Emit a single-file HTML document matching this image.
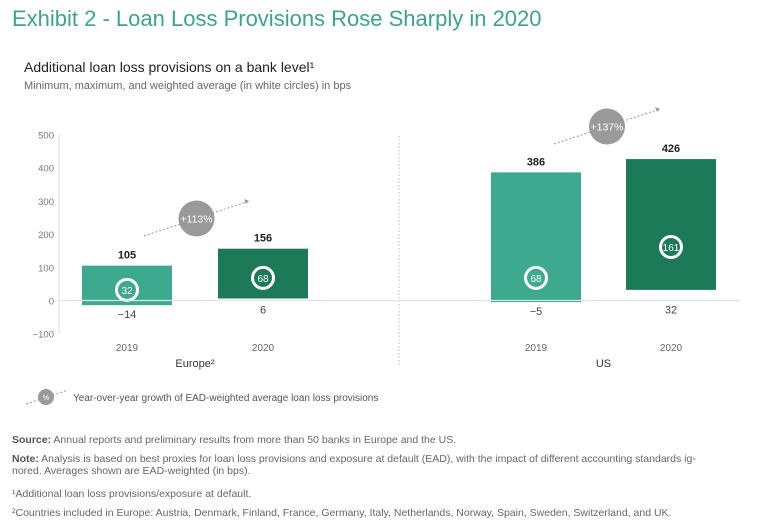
<!DOCTYPE html>
<html><head><meta charset="utf-8"><style>
body{margin:0;width:768px;height:531px;background:#fff;font-family:"Liberation Sans",sans-serif;overflow:hidden;position:relative}
.t{position:absolute;white-space:nowrap}
.fn{position:absolute;left:12px;font-size:10.5px;color:#666;line-height:12px}
.fn b{color:#555}
</style></head><body>
<div class="t" style="left:12px;top:6px;font-size:22px;color:#3aa58a">Exhibit 2 - Loan Loss Provisions Rose Sharply in 2020</div>
<div class="t" style="left:24px;top:59px;font-size:14px;color:#222">Additional loan loss provisions on a bank level¹</div>
<div class="t" style="left:24px;top:80px;font-size:11px;color:#666">Minimum, maximum, and weighted average (in white circles) in bps</div>
<svg id="c" width="768" height="531" style="position:absolute;left:0;top:0"></svg>
<div class="fn" style="top:434px"><b>Source:</b> Annual reports and preliminary results from more than 50 banks in Europe and the US.</div>
<div class="fn" style="top:453px;width:740px"><b>Note:</b> Analysis is based on best proxies for loan loss provisions and exposure at default (EAD), with the impact of different accounting standards ig-<br>nored. Averages shown are EAD-weighted (in bps).</div>
<div class="fn" style="top:488px">¹Additional loan loss provisions/exposure at default.</div>
<div class="fn" style="top:507px">²Countries included in Europe: Austria, Denmark, Finland, France, Germany, Italy, Netherlands, Norway, Spain, Sweden, Switzerland, and UK.</div>
<script>
const categories=["2019","2020","2019","2020"];
const groups=["Europe²","US"];
const maxVals=[105,156,386,426];
const minVals=[-14,6,-5,32];
const avgVals=[32,68,68,161];
const growth=["+113%","+137%"];
const ticks=[500,400,300,200,100,0,-100];
const NS="http://www.w3.org/2000/svg";
const svg=document.getElementById('c');
function y(v){return 300.5-v*0.332;}
const barX=[82,218,491,626], barW=90, colors=["#3daa8f","#1d7a58","#3daa8f","#1d7a58"];
function mk(tag,a,txt){const e=document.createElementNS(NS,tag);for(const k in a)e.setAttribute(k,a[k]);if(txt!==undefined)e.textContent=txt;svg.appendChild(e);return e;}
let e;
e=mk('line',{x1:59,y1:y(500),x2:59,y2:y(-100),stroke:'#ddd','stroke-width':1});


ticks.forEach(t=>{e=mk('text',{x:54,y:y(t)+4,'text-anchor':'end','font-size':9.5,fill:'#777'},t<0?'−'+(-t):t);

});
e=mk('line',{x1:399,y1:136,x2:399,y2:366,stroke:'#bbb','stroke-dasharray':'1.5,2'});


for(let i=0;i<4;i++){
 const x=barX[i],cx=x+barW/2;
 e=mk('rect',{x:x,y:y(maxVals[i]),width:barW,height:y(minVals[i])-y(maxVals[i]),fill:colors[i]});
 
 
 e=mk('text',{x:cx,y:y(maxVals[i])-7,'text-anchor':'middle','font-size':11,'font-weight':'bold',fill:'#222'},maxVals[i]);
 
 
 e=mk('text',{x:cx,y:Math.max(y(minVals[i]),y(0))+13,'text-anchor':'middle','font-size':11,fill:'#444'},minVals[i]<0?'−'+(-minVals[i]):minVals[i]);
 
 
 e=mk('circle',{cx:cx,cy:y(avgVals[i]),r:10.5,fill:colors[i],stroke:'#fff','stroke-width':3});
 
 
 e=mk('text',{x:cx,y:y(avgVals[i])+4,'text-anchor':'middle','font-size':10,fill:'#fff'},avgVals[i]);
 
 
 e=mk('text',{x:cx,y:351,'text-anchor':'middle','font-size':10,fill:'#666'},categories[i]);
 
 
}
e=mk('line',{x1:59,y1:y(0),x2:740,y2:y(0),stroke:'#e2e2e2','stroke-width':1.2});


groups.forEach((g,j)=>{const cx=j?(barX[2]+barX[3]+barW)/2:(barX[0]+barX[1]+barW)/2;
 e=mk('text',{x:cx,y:367,'text-anchor':'middle','font-size':11,fill:'#333'},g);
 
 
 const a=j?[554,144,660,109]:[144,236,249,201];
 e=mk('line',{x1:a[0],y1:a[1],x2:a[2],y2:a[3],stroke:'#999','stroke-dasharray':'2,2'});
 
 
 e=mk('polygon',{points:`${a[2]},${a[3]} ${a[2]-5},${a[3]-2} ${a[2]-3},${a[3]+3}`,fill:'#999'});
 
 
 const mx=(a[0]+a[2])/2,my=(a[1]+a[3])/2;
 e=mk('circle',{cx:mx,cy:my,r:18,fill:'#9a9a9a'});
 
 
 e=mk('text',{x:mx,y:my+4,'text-anchor':'middle','font-size':10.5,fill:'#fff'},growth[j]);
 
 
});
e=mk('line',{x1:26,y1:404,x2:68,y2:390,stroke:'#999','stroke-dasharray':'2,2'});


e=mk('circle',{cx:46,cy:397,r:8,fill:'#9a9a9a'});


e=mk('text',{x:46,y:400,'text-anchor':'middle','font-size':7,fill:'#fff'},'%');


e=mk('text',{x:73,y:401,'font-size':10,fill:'#555'},'Year-over-year growth of EAD-weighted average loan loss provisions');


</script>
</body></html>
